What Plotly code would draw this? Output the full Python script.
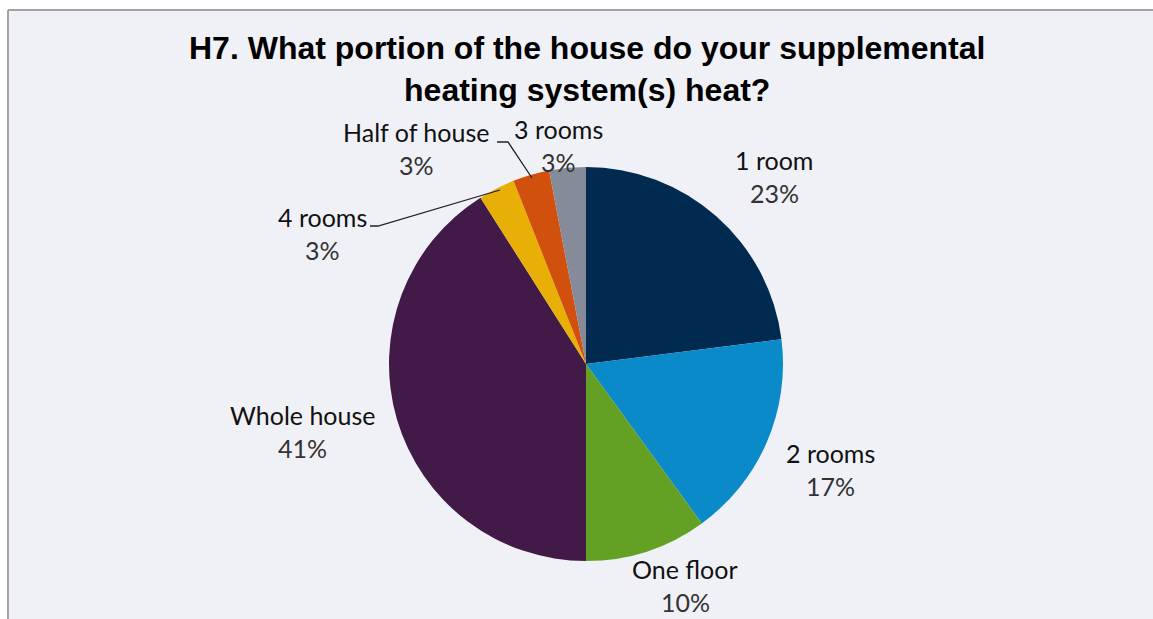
import plotly.graph_objects as go

W, H = 1153, 619

categories = ["1 room", "2 rooms", "One floor", "Whole house", "4 rooms", "Half of house", "3 rooms"]
values = [23, 17, 10, 41, 3, 3, 3]
colors = ["#012a50", "#0a8ac9", "#64a023", "#421a47", "#e8b007", "#d1500d", "#858b99"]

# label text positions (pixel centers of the name line)
label_pos = {
    "1 room": (774, 160),
    "2 rooms": (830, 453),
    "One floor": (685, 569),
    "Whole house": (302, 415),
    "4 rooms": (322, 217),
    "Half of house": (416, 132),
    "3 rooms": (558, 129),
}


def px(x):
    return x / W


def py(y):
    return 1 - y / H


fig = go.Figure(
    go.Pie(
        labels=categories,
        values=values,
        sort=False,
        direction="clockwise",
        rotation=0,
        marker=dict(colors=colors, line=dict(width=0)),
        textinfo="none",
        hoverinfo="label+percent",
        showlegend=False,
        domain=dict(x=[px(389), px(783)], y=[py(561), py(167)]),
    )
)

annotations = []
for cat, v in zip(categories, values):
    x, y = label_pos[cat]
    annotations.append(dict(x=px(x), y=py(y), xref="paper", yref="paper", text=cat,
                            showarrow=False, font=dict(family="Lato", size=25, color="#111111"),
                            xanchor="center", yanchor="middle"))
    annotations.append(dict(x=px(x), y=py(y + 33), xref="paper", yref="paper", text=f"{v}%",
                            showarrow=False, font=dict(family="Lato", size=25, color="#333333"),
                            xanchor="center", yanchor="middle"))

annotations.append(dict(
    x=px(587), y=py(69), xref="paper", yref="paper",
    text="<b>H7. What portion of the house do your supplemental<br>heating system(s) heat?</b>",
    showarrow=False, font=dict(family="Liberation Sans", size=32, color="#000000"),
    xanchor="center", yanchor="middle", align="center",
))

shapes = [
    dict(type="rect", xref="paper", yref="paper", x0=0, x1=1, y0=py(10), y1=1,
         fillcolor="#ffffff", line=dict(width=0), layer="below"),
    dict(type="rect", xref="paper", yref="paper", x0=0, x1=px(8), y0=0, y1=1,
         fillcolor="#ffffff", line=dict(width=0), layer="below"),
    dict(type="line", xref="paper", yref="paper", x0=px(8), x1=1, y0=py(10), y1=py(10),
         line=dict(color="#a3a3a3", width=2)),
    dict(type="line", xref="paper", yref="paper", x0=px(8), x1=px(8), y0=0, y1=py(10),
         line=dict(color="#a3a3a3", width=2)),
    # leader lines
    dict(type="path", xref="paper", yref="paper",
         path=f"M {px(370)},{py(226)} L {px(378)},{py(226)} L {px(500)},{py(190)}",
         line=dict(color="#222222", width=1.3)),
    dict(type="path", xref="paper", yref="paper",
         path=f"M {px(497)},{py(142)} L {px(508)},{py(142)} L {px(532)},{py(178)}",
         line=dict(color="#222222", width=1.3)),
]

fig.update_layout(
    width=W, height=H,
    margin=dict(l=0, r=0, t=0, b=0),
    paper_bgcolor="#f0f1f6",
    plot_bgcolor="#f0f1f6",
    annotations=annotations,
    shapes=shapes,
)

fig.write_html(
    "out.html",
    config={"displayModeBar": False},
    post_script=(
        "document.body.style.margin='0';document.body.style.overflow='hidden';"
        "document.documentElement.style.overflow='hidden';"
        "document.body.style.background='#f0f1f6';"
    ),
)
